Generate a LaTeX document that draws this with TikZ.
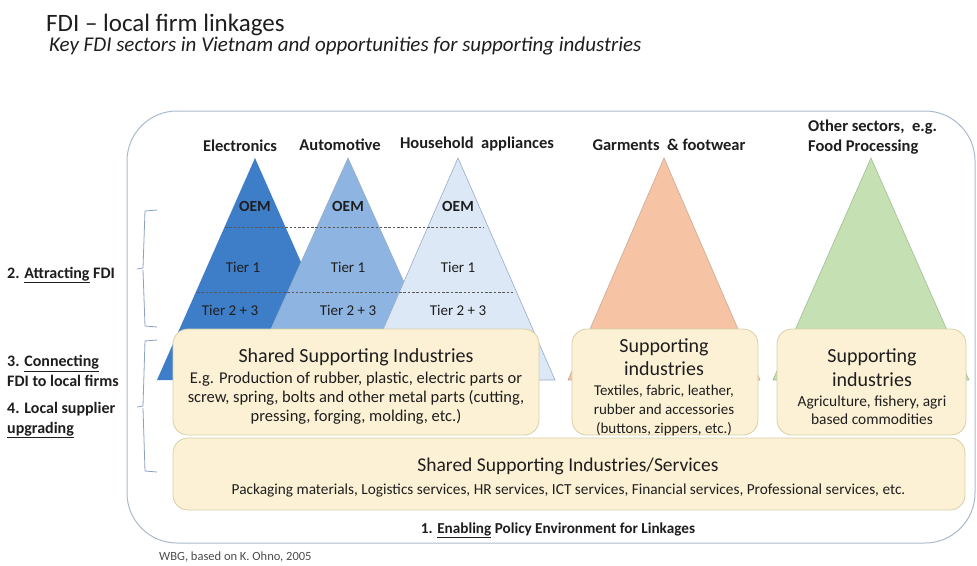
\documentclass[tikz,border=0pt]{standalone}
\usepackage{fontspec}
\setmainfont{Carlito}
\definecolor{elec}{RGB}{62,126,200}
\definecolor{autoc}{RGB}{142,180,225}
\definecolor{house}{RGB}{220,232,246}
\definecolor{triline}{RGB}{150,172,200}
\definecolor{garm}{RGB}{246,196,164}
\definecolor{garmline}{RGB}{200,170,150}
\definecolor{greenc}{RGB}{197,224,178}
\definecolor{greenline}{RGB}{160,190,150}
\definecolor{cream}{RGB}{252,241,212}
\definecolor{creamline}{RGB}{214,208,168}
\definecolor{outerline}{RGB}{170,186,204}
\definecolor{braceline}{RGB}{140,162,196}
\definecolor{txt}{RGB}{30,30,30}
\newcommand{\fsb}[2]{\fontsize{#1}{#2}\selectfont}
\begin{document}
\begin{tikzpicture}[x=1pt,y=-1pt,
  every node/.style={inner sep=0pt, text=txt},
  hdr/.style={font=\fsb{16.5}{20}\bfseries},
  lvl/.style={font=\fsb{15.5}{18}\bfseries},
  tier/.style={font=\fsb{15}{18}},
  sidelbl/.style={font=\fsb{16}{19.5}\bfseries, align=left, anchor=west},
  cbox/.style={draw=creamline, fill=cream, rounded corners=15pt, line width=0.8pt},
  brace/.style={draw=braceline, line width=0.8pt},
  dash line/.style={draw=black!65, dash pattern=on 2.5pt off 1.8pt, line width=0.8pt}
]
\useasboundingbox (0,0) rectangle (977,565);
\fill[white] (0,0) rectangle (977,565);

% title
\node[anchor=west, font=\fsb{25}{29}] (title) at (46,25) {FDI -- local firm linkages};
\node[anchor=west, font=\fsb{21}{25}\itshape] (subtitle) at (49,46) {Key FDI sectors in Vietnam and opportunities for supporting industries};

% outer frame
\draw[outerline, line width=1pt, rounded corners=50pt] (127,111) rectangle (975,543);

% triangles
\fill[elec] (255,158) -- (353,380) -- (157,380) -- cycle;
\filldraw[fill=autoc, draw=triline, line width=0.6pt] (348,158) -- (448,380) -- (248,380) -- cycle;
\filldraw[fill=house, draw=triline, line width=0.6pt] (458,158) -- (555,380) -- (361,380) -- cycle;
\filldraw[fill=garm, draw=garmline, line width=0.6pt] (664,158) -- (760,380) -- (568,380) -- cycle;
\filldraw[fill=greenc, draw=greenline, line width=0.6pt] (871,158) -- (969,380) -- (773,380) -- cycle;

% dashed tier lines
\coordinate (d1a) at (225,227); \coordinate (d1b) at (484,227);
\coordinate (d2a) at (197,292); \coordinate (d2b) at (514,292);
\draw[dash line] (d1a) -- (d1b);
\draw[dash line] (d2a) -- (d2b);

% headers
\node[hdr] (hElec) at (240,146) {Electronics};
\node[hdr] (hAuto) at (340,145) {Automotive};
\node[hdr] (hHouse) at (477,144) {Household\ \ appliances};
\node[hdr] (hGarm) at (669,145) {Garments \ \& footwear};
\node[hdr, anchor=west, align=left] (hOther) at (808,137) {Other sectors, \ e.g.\\Food Processing};

% tier labels
\node[lvl] (oem1) at (255,206) {OEM};
\node[lvl] (oem2) at (348,206) {OEM};
\node[lvl] (oem3) at (458,206) {OEM};
\node[tier] (t1a) at (243,267) {Tier 1};
\node[tier] (t1b) at (348,267) {Tier 1};
\node[tier] (t1c) at (458,267) {Tier 1};
\node[tier] (t2a) at (230,310) {Tier 2 + 3};
\node[tier] (t2b) at (348,310) {Tier 2 + 3};
\node[tier] (t2c) at (458,310) {Tier 2 + 3};

% supporting boxes
\node[cbox, minimum width=366pt, minimum height=106pt] (ssi) at (356,382) {};
\node[font=\fsb{20}{24}] (ssiT) at (356,357) {Shared Supporting Industries};
\node[font=\fsb{16.5}{19}, align=center] (ssiB) at (356,398)
  {E.g. Production of rubber, plastic, electric parts or\\
   screw, spring, bolts and other metal parts (cutting,\\
   pressing, forging, molding, etc.)};

\node[cbox, minimum width=186pt, minimum height=106pt] (garmBox) at (665,382) {};
\node[font=\fsb{20}{23}, align=center] (garmT) at (664,357) {Supporting\\industries};
\node[font=\fsb{15}{19}, align=center] (garmB) at (664,410) {Textiles, fabric, leather,\\rubber and accessories\\(buttons, zippers, etc.)};

\node[cbox, minimum width=189pt, minimum height=106pt] (agriBox) at (871.5,382) {};
\node[font=\fsb{20}{24}, align=center] (agriT) at (872,368) {Supporting\\industries};
\node[font=\fsb{15.4}{18}, align=center] (agriB) at (872,410) {Agriculture, fishery, agri\\based commodities};

\node[cbox, minimum width=792pt, minimum height=72pt] (svc) at (569,474) {};
\node[font=\fsb{19.5}{23}] (svcT) at (568,466) {Shared Supporting Industries/Services};
\node[font=\fsb{15.3}{18}] (svcB) at (568.5,490) {Packaging materials, Logistics services, HR services, ICT services, Financial services, Professional services, etc.};

% bottom label
\node[font=\fsb{15.2}{18}\bfseries] (enab) at (558,530) {1. \underline{Enabling} Policy Environment for Linkages};
\node[anchor=west, font=\fsb{12.5}{15}, text=black!70] (src) at (159,557) {WBG, based on K. Ohno, 2005};

% braces
\draw[brace] (157,210) -- (145,211) -- (143,268) -- (137,269);
\draw[brace] (143,270) -- (145,326) -- (157,327);
\draw[brace] (157,340) -- (145,341) -- (143,406) -- (137,407);
\draw[brace] (143,408) -- (145,471) -- (157,472);

% side labels
\node[sidelbl] (s2) at (7,275) {2. \underline{Attracting} FDI};
\node[sidelbl] (s3) at (7,371) {3. \underline{Connecting}\\FDI to local firms};
\node[sidelbl] (s4) at (7,420) {4. Local supplier\\\underline{upgrading}};
\end{tikzpicture}
\end{document}
